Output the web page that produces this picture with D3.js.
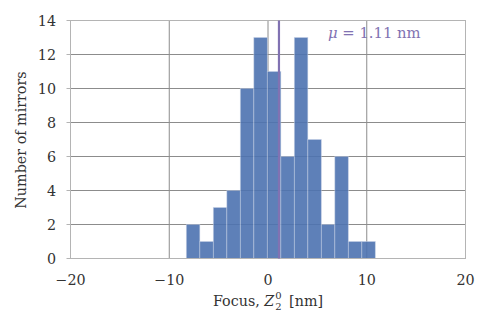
<!DOCTYPE html>
<html><head><meta charset="utf-8">
<script src="https://cdn.jsdelivr.net/npm/d3@7"></script>
<style>body{margin:0;background:#fff}svg{display:block}</style>
</head><body>
<svg id="c" width="490" height="331"></svg>
<script>
const binStart = -8.27;
const binWidth = 1.367;
const counts = [2, 1, 3, 4, 10, 13, 11, 6, 13, 7, 2, 6, 1, 1];
const meanValue = 1.11;
const xTicks = [-20, -10, 0, 10, 20];
const yTicks = [0, 2, 4, 6, 8, 10, 12, 14];
const xLabel = "Focus, ";
const yLabel = "Number of mirrors";

const bins = counts.map((c, i) => ({x0: binStart + i * binWidth, x1: binStart + (i + 1) * binWidth, n: c}));

const svg = d3.select("#c");
const m = {l: 70.5, r: 465.5, t: 20.5, b: 258.5};
const x = d3.scaleLinear().domain([-20, 20]).range([m.l, m.r]);
const y = d3.scaleLinear().domain([0, 14]).range([m.b, m.t]);
const font = "'DejaVu Serif', 'Liberation Serif', serif";
const fs = 14.3;
const tc = "#333";

// grid
const g = svg.append("g");
g.selectAll(".gx").data(xTicks.slice(1, -1)).join("line")
  .attr("x1", d => x(d)).attr("x2", d => x(d)).attr("y1", m.t).attr("y2", m.b)
  .attr("stroke", "#8c8c8c").attr("stroke-width", 1);
g.selectAll(".gy").data(yTicks.slice(1, -1)).join("line")
  .attr("y1", d => y(d)).attr("y2", d => y(d)).attr("x1", m.l).attr("x2", m.r)
  .attr("stroke", "#8c8c8c").attr("stroke-width", 1);

// bars
svg.append("g").selectAll("rect").data(bins).join("rect")
  .attr("x", d => x(d.x0)).attr("width", d => x(d.x1) - x(d.x0))
  .attr("y", d => y(d.n)).attr("height", d => y(0) - y(d.n))
  .attr("fill", "#4c72b0").attr("fill-opacity", 0.9)
  .attr("stroke", "#c8d2e6").attr("stroke-opacity", 0.6).attr("stroke-width", 0.8);

// frame
svg.append("rect").attr("x", m.l).attr("y", m.t).attr("width", m.r - m.l).attr("height", m.b - m.t)
  .attr("fill", "none").attr("stroke", "#b4b4b4").attr("stroke-width", 1);

svg.append("g").selectAll("line").data(yTicks).join("line")
  .attr("x1", m.l - 4).attr("x2", m.l).attr("y1", d => y(d)).attr("y2", d => y(d))
  .attr("stroke", "#b4b4b4");

// mean line
svg.append("line").attr("x1", x(meanValue)).attr("x2", x(meanValue)).attr("y1", m.t).attr("y2", m.b)
  .attr("stroke", "#8172b2").attr("stroke-width", 2.2);

const mt = svg.append("text").attr("x", 328).attr("y", 38)
  .attr("font-family", font).attr("font-size", fs + 0.5).attr("fill", "#8172b2");
mt.append("tspan").attr("font-style", "italic").text("μ");
mt.append("tspan").text(" = 1.11 nm");

// tick labels
const fmt = d => (d < 0 ? "\u2212" + Math.abs(d) : String(d));
svg.append("g").selectAll("text").data(xTicks).join("text")
  .attr("x", d => x(d)).attr("y", 285).attr("text-anchor", "middle")
  .attr("font-family", font).attr("font-size", fs).attr("fill", tc).text(fmt);
svg.append("g").selectAll("text").data(yTicks).join("text")
  .attr("x", 56).attr("y", d => y(d) + 5).attr("text-anchor", "end")
  .attr("font-family", font).attr("font-size", fs).attr("fill", tc).text(fmt);

// axis labels
const xl = svg.append("text").attr("x", 268).attr("y", 306).attr("text-anchor", "middle")
  .attr("font-family", font).attr("font-size", fs).attr("fill", tc);
xl.append("tspan").text(xLabel);
xl.append("tspan").attr("font-style", "italic").text("Z");
xl.append("tspan").attr("font-size", 10).attr("dx", 1).attr("dy", -7).text("0");
xl.append("tspan").attr("font-size", 10).attr("dx", -6.5).attr("dy", 11).text("2");
xl.append("tspan").attr("dx", 3).attr("dy", -4).text(" [nm]");

svg.append("text").attr("transform", "translate(26,140) rotate(-90)").attr("text-anchor", "middle")
  .attr("font-family", font).attr("font-size", fs).attr("fill", tc).text(yLabel);
</script>
</body></html>
